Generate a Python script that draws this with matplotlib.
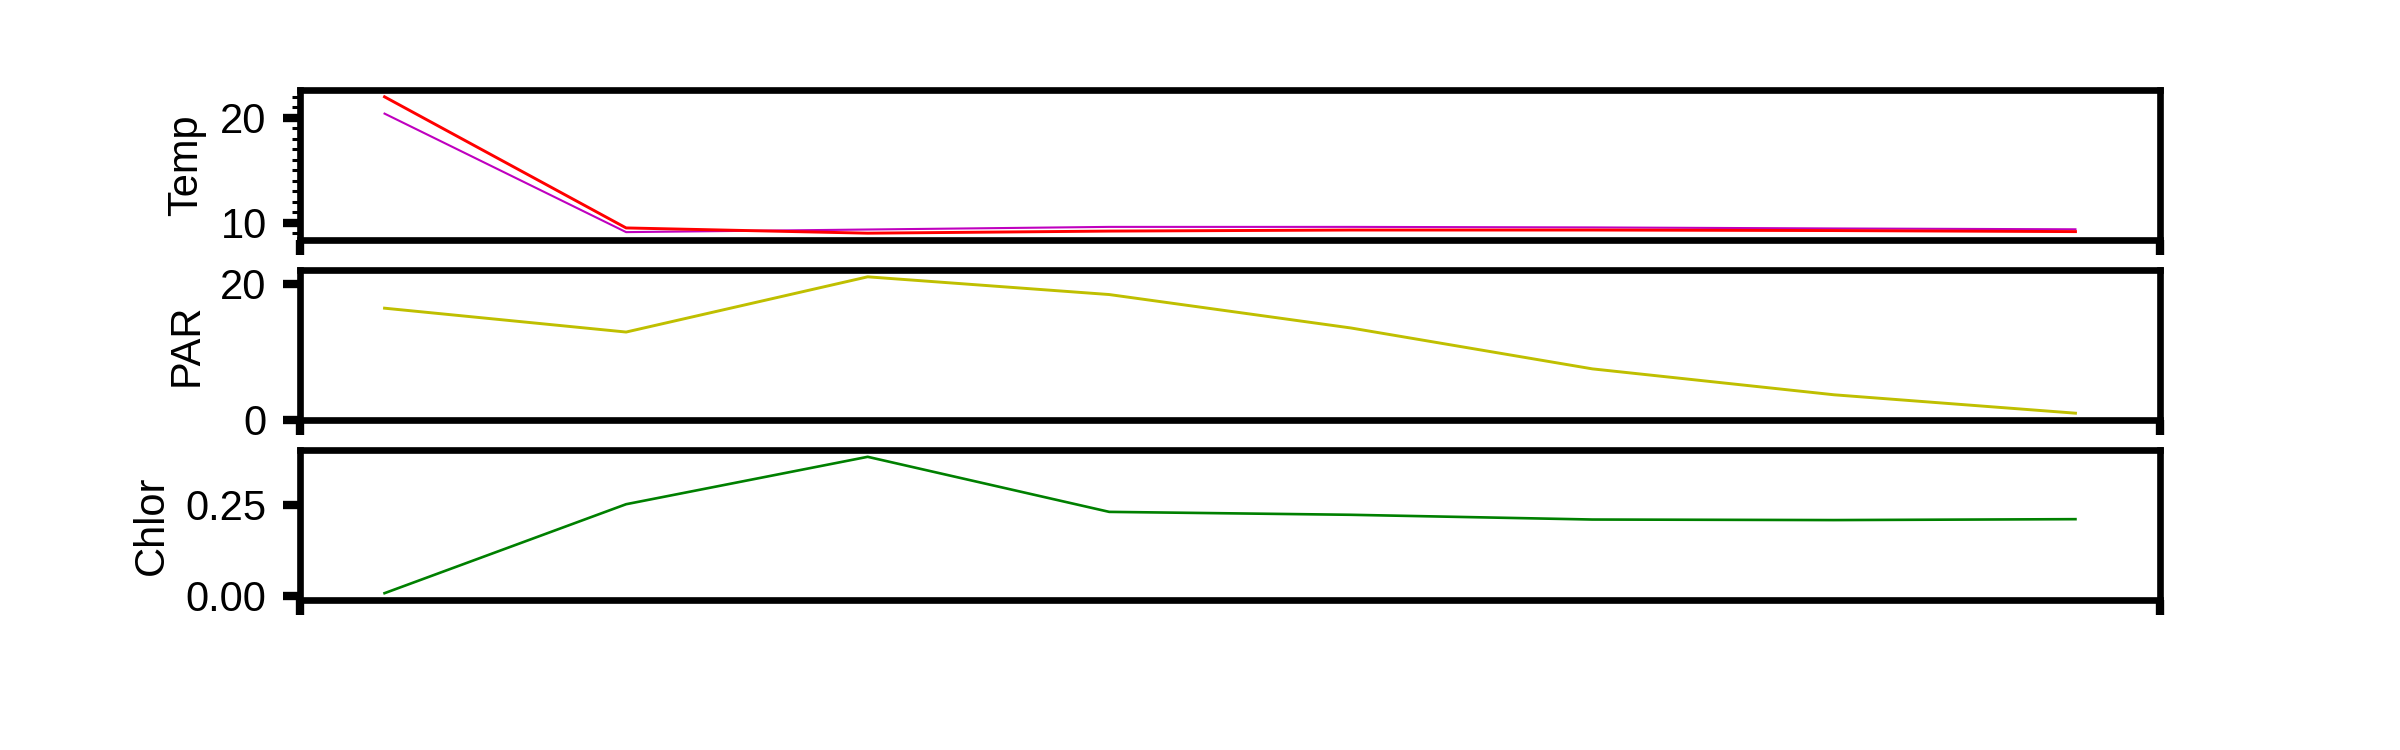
import matplotlib
matplotlib.use("Agg")
import matplotlib.pyplot as plt
from matplotlib.ticker import MultipleLocator, FormatStrFormatter

plt.rcParams['font.family'] = ['Liberation Sans', 'DejaVu Sans']

# ---- data ----
sample_index = [0, 1, 2, 3, 4, 5, 6, 7]
temp_red = [22.0, 9.5, 9.0, 9.2, 9.3, 9.3, 9.25, 9.15]
temp_magenta = [20.4, 9.1, 9.35, 9.6, 9.6, 9.55, 9.45, 9.37]
par_values = [16.4, 12.9, 21.0, 18.4, 13.5, 7.5, 3.7, 1.0]
chlor_values = [0.007, 0.251, 0.381, 0.230, 0.222, 0.209, 0.2075, 0.210]

temp_ticks = [10, 20]
par_ticks = [0, 20]
chlor_ticks = [0.0, 0.25]

# ---- figure ----
fig, axes = plt.subplots(3, 1, figsize=(24, 7.5), dpi=100)
fig.subplots_adjust(left=0.125, right=0.9, top=0.88, bottom=0.2, hspace=0.2)

spine_w = 4.8
fs = 30

ax_t, ax_p, ax_c = axes
ax_t.plot(sample_index, temp_magenta, color=(0.75, 0, 0.75), lw=1.5)
ax_t.plot(sample_index, temp_red, color='red', lw=2.1)
ax_p.plot(sample_index, par_values, color=(0.75, 0.75, 0), lw=2.1)
ax_c.plot(sample_index, chlor_values, color='green', lw=1.9)

ax_t.set_yticks(temp_ticks)
ax_t.yaxis.set_minor_locator(MultipleLocator(1))
ax_p.set_yticks(par_ticks)
ax_c.set_yticks(chlor_ticks)
ax_c.yaxis.set_major_formatter(FormatStrFormatter('%.2f'))

for ax, lab in zip(axes, ['Temp', 'PAR', 'Chlor']):
    for s in ax.spines.values():
        s.set_linewidth(spine_w)
    ax.set_ylabel(lab, fontsize=fs, labelpad=10)
    ax.tick_params(axis='y', which='major', length=12, width=6, labelsize=fs, pad=12)
    ax.tick_params(axis='y', which='minor', length=6, width=2.2)
    xl = ax.get_xlim()
    ax.set_xticks(list(xl))
    ax.set_xticklabels([])
    ax.set_xlim(xl)
    ax.tick_params(axis='x', which='major', length=11, width=6)

fig.savefig('out.png', dpi=100)
